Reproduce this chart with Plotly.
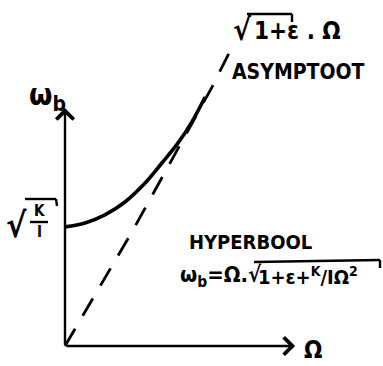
import plotly.graph_objects as go

# Hand-sketched hyperbola omega_b(Omega) with its (slightly bent, hand-drawn) asymptote
omega_curve = [0.0, 0.67, 1.33, 2.0, 2.67, 3.23, 3.77, 4.23, 4.67]
wb_curve = [3.97, 4.1, 4.37, 4.8, 5.43, 6.1, 6.77, 7.47, 8.3]

omega_asym = [0.0, 2.27, 4.9, 5.6]
wb_asym = [0.0, 3.87, 8.63, 10.03]

# axis extents (arrow tips)
x_axis_end = 7.67
y_axis_end = 7.93

W, H = 383, 366
X0, Y0, S = 65, 346, 30  # origin in px and px per unit
FONT = "Liberation Sans Narrow, DejaVu Sans Condensed, Liberation Sans, sans-serif"
INK = "black"


def px(x, y):
    """pixel position -> paper coordinates"""
    return x / W, 1 - y / H


fig = go.Figure()

fig.add_trace(go.Scatter(
    x=omega_asym, y=wb_asym, mode="lines",
    line=dict(color=INK, width=2.8, dash="20px,15px"),
    hoverinfo="skip"))

fig.add_trace(go.Scatter(
    x=omega_curve, y=wb_curve, mode="lines",
    line=dict(color=INK, width=3.6, shape="spline"),
    hoverinfo="skip"))

annotations = []

# axes drawn as arrows from the origin
annotations.append(dict(x=0, y=y_axis_end, ax=0, ay=0, xref="x", yref="y",
                        axref="x", ayref="y", showarrow=True, arrowhead=4,
                        arrowsize=1.4, arrowwidth=2.4, arrowcolor=INK, text=""))
annotations.append(dict(x=x_axis_end, y=0, ax=0, ay=0, xref="x", yref="y",
                        axref="x", ayref="y", showarrow=True, arrowhead=4,
                        arrowsize=1.4, arrowwidth=2.4, arrowcolor=INK, text=""))


def label(text, x, y, size, xanchor="center", yanchor="middle"):
    pxx, pyy = px(x, y)
    annotations.append(dict(text=text, x=pxx, y=pyy, xref="paper", yref="paper",
                            showarrow=False, xanchor=xanchor, yanchor=yanchor,
                            font=dict(family=FONT, size=size, color=INK)))


label("<b>ω<sub>b</sub></b>", 48, 96, 30)
label("<b>Ω</b>", 313, 350, 24)

# sqrt(K/I) on the vertical axis
label("<b>√</b>", 16, 225, 34)
label("<b>K</b>", 39, 211, 15)
label("<b>I</b>", 39, 232, 15)

label("<b>√</b>", 243, 30, 30)
label("<b>1+ε . Ω</b>", 252, 31, 24, xanchor="left")
label("<b>ASYMPTOOT</b>", 298, 72, 21)
label("<b>HYPERBOOL</b>", 250, 242, 20)
label("<b>ω<sub>b</sub>=Ω.√</b>", 178, 276, 22, xanchor="left")
label("<b>1+ε+<sup>K</sup>/IΩ<sup>2</sup></b>", 256, 276, 20, xanchor="left")

shapes = []


def stroke(x1, y1, x2, y2, w=2.4):
    a, b = px(x1, y1)
    c, d = px(x2, y2)
    shapes.append(dict(type="line", xref="paper", yref="paper", x0=a, y0=b,
                       x1=c, y1=d, line=dict(color=INK, width=w)))


# radical bars
stroke(25, 199, 56, 199)
stroke(56, 199, 57, 206)
stroke(30, 222, 48, 222)
stroke(247, 14, 292, 14)
stroke(292, 14, 292, 22)
stroke(254, 262, 380, 260)
stroke(380, 260, 380, 268)

fig.update_layout(
    width=W, height=H, autosize=False,
    margin=dict(l=0, r=0, t=0, b=0),
    paper_bgcolor="white", plot_bgcolor="white",
    showlegend=False,
    xaxis=dict(visible=False, range=[-X0 / S, (W - X0) / S], fixedrange=True),
    yaxis=dict(visible=False, range=[(Y0 - H) / S, Y0 / S], fixedrange=True),
    annotations=annotations, shapes=shapes,
)

fig.write_html("out.html")
